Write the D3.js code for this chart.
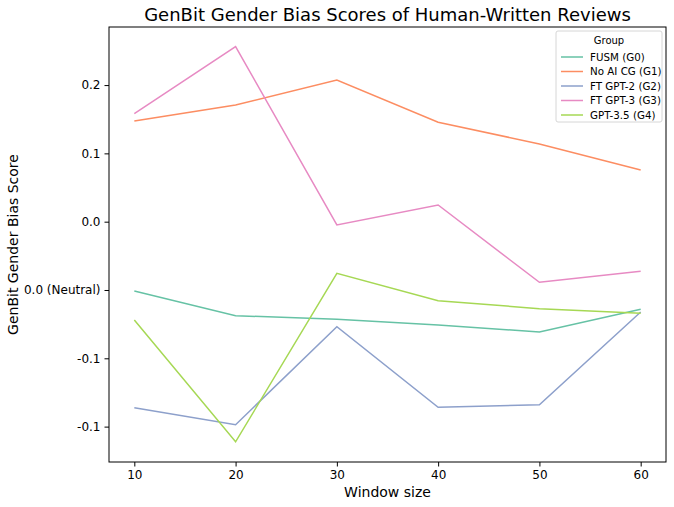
<!DOCTYPE html>
<html>
<head>
<meta charset="utf-8">
<script src="https://cdn.jsdelivr.net/npm/d3@7"></script>
<style>
  body { margin: 0; background: #fff; }
  svg { font-family: "DejaVu Sans", sans-serif; }
</style>
</head>
<body>
<script>

// Window sizes on the x axis
const windowSizes = [10, 20, 30, 40, 50, 60];

// Group names, same order as the legend
const groups = ["FUSM (G0)", "No AI CG (G1)", "FT GPT-2 (G2)", "FT GPT-3 (G3)", "GPT-3.5 (G4)"];

// Scores per group
const fusm    = [-0.0007, -0.0188, -0.0214, -0.0256, -0.0307, -0.0141];
const noAiCg  = [0.1237, 0.1354, 0.1537, 0.1228, 0.1069, 0.0878];
const ftGpt2  = [-0.0862, -0.0986, -0.0269, -0.0859, -0.0840, -0.0161];
const ftGpt3  = [0.1291, 0.1781, 0.0476, 0.0622, 0.0056, 0.0137];
const gpt35   = [-0.0220, -0.1111, 0.0122, -0.0078, -0.0137, -0.0171];

// Y ticks and their labels as printed on the chart
const yTickValues = [0.15, 0.10, 0.05, 0.00, -0.05, -0.10];
const yTickLabels = ["0.2", "0.1", "0.0", "0.0 (Neutral)", "-0.1", "-0.1"];

const xTickValues = [10, 20, 30, 40, 50, 60];

const series = [fusm, noAiCg, ftGpt2, ftGpt3, gpt35];
const colors = ["#66c2a5", "#fc8d62", "#8da0cb", "#e78ac3", "#a6d854"];

const width = 674;
const height = 507;
const marginTop = 27;
const marginRight = 8;
const marginBottom = 45;
const marginLeft = 109;

// Scales (matplotlib style 5% padding on x)
const x = d3.scaleLinear([7.5, 62.5], [marginLeft, width - marginRight]);
const y = d3.scaleLinear([-0.1259, 0.1925], [height - marginBottom, marginTop]);

const svg = d3.create("svg")
    .attr("width", width)
    .attr("height", height)
    .attr("viewBox", [0, 0, width, height]);

// Title
svg.append("text")
    .attr("x", (marginLeft + width - marginRight) / 2)
    .attr("y", 21)
    .attr("text-anchor", "middle")
    .attr("font-size", "18px")
    .text("GenBit Gender Bias Scores of Human-Written Reviews");

// Lines
const line = d3.line()
    .x((d, i) => x(windowSizes[i]))
    .y(d => y(d));

series.forEach((s, i) => {
    svg.append("path")
        .attr("fill", "none")
        .attr("stroke", colors[i])
        .attr("stroke-width", 1.5)
        .attr("stroke-linejoin", "miter")
        .attr("d", line(s));
});

// X axis
svg.append("g")
    .attr("transform", `translate(0,${height - marginBottom})`)
    .call(d3.axisBottom(x).tickValues(xTickValues).tickSize(4.5).tickPadding(4).tickSizeOuter(0))
    .call(g => g.select(".domain").remove())
    .call(g => g.selectAll("text").attr("font-size", "12px").attr("fill", "#000").attr("font-family", "DejaVu Sans"))
    .call(g => g.selectAll(".tick line").attr("stroke", "#000"));

// Y axis
svg.append("g")
    .attr("transform", `translate(${marginLeft},0)`)
    .call(d3.axisLeft(y).tickValues(yTickValues).tickFormat((d, i) => yTickLabels[i]).tickSize(4.5).tickPadding(4).tickSizeOuter(0))
    .call(g => g.select(".domain").remove())
    .call(g => g.selectAll("text").attr("font-size", "12px").attr("fill", "#000").attr("font-family", "DejaVu Sans"))
    .call(g => g.selectAll(".tick line").attr("stroke", "#000"));

// Frame
svg.append("rect")
    .attr("x", marginLeft)
    .attr("y", marginTop)
    .attr("width", width - marginLeft - marginRight)
    .attr("height", height - marginTop - marginBottom)
    .attr("fill", "none")
    .attr("stroke", "#000")
    .attr("stroke-width", 1);

// Axis labels
svg.append("text")
    .attr("x", (marginLeft + width - marginRight) / 2)
    .attr("y", 497)
    .attr("text-anchor", "middle")
    .attr("font-size", "14px")
    .text("Window size");

svg.append("text")
    .attr("transform", `translate(18,${(marginTop + height - marginBottom) / 2}) rotate(-90)`)
    .attr("text-anchor", "middle")
    .attr("font-size", "14px")
    .text("GenBit Gender Bias Score");

// Legend
const legend = svg.append("g").attr("transform", "translate(556,31)");
legend.append("rect")
    .attr("width", 106)
    .attr("height", 91)
    .attr("rx", 2)
    .attr("fill", "#fff")
    .attr("fill-opacity", 0.8)
    .attr("stroke", "#d6d6d6");
legend.append("text")
    .attr("x", 53)
    .attr("y", 13)
    .attr("text-anchor", "middle")
    .attr("font-size", "10px")
    .text("Group");
groups.forEach((name, i) => {
    const yy = 26 + i * 14.5;
    legend.append("line")
        .attr("x1", 5).attr("x2", 27)
        .attr("y1", yy).attr("y2", yy)
        .attr("stroke", colors[i])
        .attr("stroke-width", 1.5);
    legend.append("text")
        .attr("x", 34)
        .attr("y", yy + 3.5)
        .attr("font-size", "10.3px")
        .text(name);
});

document.body.appendChild(svg.node());
</script>
</body>
</html>
